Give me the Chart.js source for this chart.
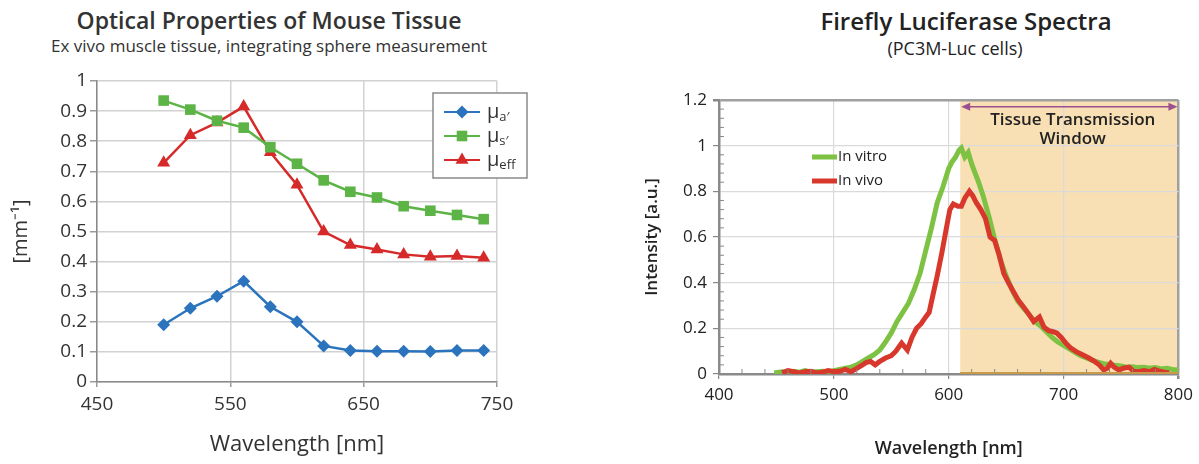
<!DOCTYPE html>
<html>
<head>
<meta charset="utf-8">
<script src="https://cdn.jsdelivr.net/npm/chart.js@4.4.1/dist/chart.umd.min.js"></script>
<style>
  body { margin: 0; width: 1199px; height: 464px; background: #fff; position: relative; overflow: hidden; font-family: "Open Sans", sans-serif; color: #222; }
  .ttl { position: absolute; white-space: nowrap; transform: translateX(-50%); }
  #leftBox { position: absolute; left: 0; top: 0; width: 540px; height: 464px; }
  #rightBox { position: absolute; left: 620px; top: 0; width: 579px; height: 464px; }
</style>
</head>
<body>
<div class="ttl" style="left:269px;top:5px;font-size:23px;line-height:30px;font-weight:600;color:#333">Optical Properties of Mouse Tissue</div>
<div class="ttl" style="left:269px;top:35px;font-size:17px;line-height:22px;color:#333">Ex vivo muscle tissue, integrating sphere measurement</div>
<div class="ttl" style="left:966px;top:5px;font-size:24px;line-height:32px;font-weight:600;color:#222">Firefly Luciferase Spectra</div>
<div class="ttl" style="left:955px;top:37px;font-size:18px;line-height:22px;color:#222">(PC3M-Luc cells)</div>

<div id="leftBox"><canvas id="leftChart" width="540" height="464"></canvas></div>
<div id="rightBox"><canvas id="rightChart" width="579" height="464"></canvas></div>

<script>
// ---- left chart data (optical properties) ----
const wavelengths = [500, 520, 540, 560, 580, 600, 620, 640, 660, 680, 700, 720, 740];
const muA   = [0.19, 0.245, 0.285, 0.335, 0.25, 0.2, 0.12, 0.105, 0.102, 0.102, 0.101, 0.105, 0.105];
const muS   = [0.935, 0.905, 0.868, 0.845, 0.78, 0.725, 0.67, 0.632, 0.613, 0.584, 0.569, 0.555, 0.541];
const muEff = [0.728, 0.82, 0.862, 0.915, 0.763, 0.655, 0.5, 0.455, 0.44, 0.424, 0.416, 0.419, 0.413];
const leftXTicks = [450, 550, 650, 750];
const leftYTicks = [0, 0.1, 0.2, 0.3, 0.4, 0.5, 0.6, 0.7, 0.8, 0.9, 1];

// ---- right chart data (luciferase spectra) ----
const vitroWl = [448, 455, 460, 465, 470, 475, 480, 485, 490, 495, 500, 505, 510, 515, 520, 525, 530, 535, 540, 545,
  550, 555, 560, 565, 570, 575, 580, 585, 590, 595, 600, 603, 606, 609, 611, 614, 617, 620, 623, 626,
  630, 635, 640, 645, 650, 655, 660, 665, 670, 675, 680, 685, 690, 695, 700, 705, 710, 715, 720, 725,
  730, 735, 740, 745, 750, 755, 760, 765, 770, 775, 780, 785, 790, 795, 800];
const vitroI = [0.005, 0.01, 0.005, 0.012, 0.008, 0.015, 0.008, 0.01, 0.012, 0.008, 0.015, 0.02, 0.025, 0.03, 0.04, 0.055, 0.07, 0.085, 0.105, 0.14,
  0.18, 0.23, 0.27, 0.31, 0.37, 0.44, 0.54, 0.64, 0.75, 0.82, 0.9, 0.93, 0.95, 0.98, 0.99, 0.95, 0.97, 0.92, 0.88, 0.84,
  0.78, 0.69, 0.59, 0.5, 0.43, 0.37, 0.32, 0.29, 0.26, 0.23, 0.21, 0.185, 0.16, 0.14, 0.125, 0.11, 0.095, 0.08, 0.07, 0.06,
  0.052, 0.045, 0.042, 0.038, 0.035, 0.03, 0.032, 0.028, 0.03, 0.025, 0.028, 0.022, 0.025, 0.02, 0.018];
const vivoWl = [455, 460, 465, 470, 475, 480, 485, 490, 495, 500, 505, 510, 515, 520, 525, 528, 532, 536, 540, 545,
  550, 554, 559, 564, 568, 572, 576, 580, 583, 586, 590, 594, 598, 601, 604, 608, 611, 614, 618, 621,
  624, 628, 632, 636, 640, 644, 648, 652, 657, 661, 665, 670, 674, 679, 683, 687, 691, 694, 698, 702,
  706, 711, 716, 722, 727, 731, 735, 738, 741, 744, 748, 752, 757, 761, 765, 770, 775, 779, 784, 788, 792];
const vivoI = [0.005, 0.015, 0.01, 0.005, 0.01, 0.012, 0.005, 0.008, 0.015, 0.01, 0.012, 0.02, 0.01, 0.025, 0.04, 0.05, 0.055, 0.04, 0.055, 0.07,
  0.08, 0.1, 0.135, 0.105, 0.16, 0.2, 0.22, 0.25, 0.27, 0.34, 0.43, 0.53, 0.64, 0.72, 0.745, 0.735, 0.735, 0.77, 0.8, 0.78,
  0.75, 0.72, 0.68, 0.6, 0.585, 0.52, 0.44, 0.4, 0.355, 0.32, 0.295, 0.26, 0.23, 0.25, 0.205, 0.19, 0.185, 0.18, 0.16, 0.135,
  0.115, 0.098, 0.085, 0.07, 0.055, 0.04, 0.018, 0.025, 0.047, 0.03, 0.018, 0.025, 0.03, 0.012, 0.01, 0.015, 0.01, 0.02, 0.012, 0.008, 0.005];
const rightXTicks = [400, 500, 600, 700, 800];
const rightYTicks = [0, 0.2, 0.4, 0.6, 0.8, 1, 1.2];
const windowRange = [610, 800];

const FONT = '"Open Sans", sans-serif';
const BLUE = '#2b74bd', GREEN = '#5db446', RED = '#d62a2a';
const VITRO = '#7dc242', VIVO = '#d8372b';

function pts(xs, ys) { return xs.map((x, i) => ({ x: x, y: ys[i] })); }
function setTicks(list) { return s => { s.ticks = list.map(v => ({ value: v })); }; }
const plainLabel = v => String(v);

function marker(ctx, style, x, y, r, color) {
  ctx.fillStyle = color;
  ctx.beginPath();
  if (style === 'rectRot') {
    ctx.moveTo(x, y - r); ctx.lineTo(x + r, y); ctx.lineTo(x, y + r); ctx.lineTo(x - r, y);
  } else if (style === 'rect') {
    const h = r * Math.SQRT1_2;
    ctx.rect(x - h, y - h, 2 * h, 2 * h);
  } else {
    ctx.moveTo(x, y - r); ctx.lineTo(x + r * 0.866, y + r / 2); ctx.lineTo(x - r * 0.866, y + r / 2);
  }
  ctx.closePath();
  ctx.fill();
}

// legend box inside the left plot, with subscripted labels
const leftLegend = {
  id: 'leftLegend',
  afterDraw(chart) {
    const ctx = chart.ctx;
    const items = [
      { c: BLUE, s: 'rectRot', r: 6.5, sub: 'a\u2032' },
      { c: GREEN, s: 'rect', r: 7.5, sub: 's\u2032' },
      { c: RED, s: 'triangle', r: 7.5, sub: 'eff' }
    ];
    ctx.save();
    ctx.fillStyle = '#fff';
    ctx.fillRect(433, 93, 94, 85);
    ctx.strokeStyle = '#8a8a8a';
    ctx.lineWidth = 1.5;
    ctx.strokeRect(433, 93, 94, 85);
    items.forEach((it, i) => {
      const y = 112 + i * 24;
      ctx.strokeStyle = it.c;
      ctx.lineWidth = 2;
      ctx.beginPath(); ctx.moveTo(444, y); ctx.lineTo(480, y); ctx.stroke();
      marker(ctx, it.s, 462, y, it.r, it.c);
      ctx.fillStyle = '#333';
      ctx.textBaseline = 'alphabetic';
      ctx.font = '20px ' + FONT;
      ctx.fillText('\u03bc', 487, y + 6);
      const w = ctx.measureText('\u03bc').width;
      ctx.font = '13px ' + FONT;
      ctx.fillText(it.sub, 487 + w, y + 9);
    });
    ctx.restore();
  }
};

new Chart(document.getElementById('leftChart'), {
  type: 'line',
  data: {
    datasets: [
      { data: pts(wavelengths, muS), borderColor: GREEN, backgroundColor: GREEN, pointStyle: 'rect', pointRadius: 7.5, borderWidth: 2.5, pointBorderWidth: 0 },
      { data: pts(wavelengths, muEff), borderColor: RED, backgroundColor: RED, pointStyle: 'triangle', pointRadius: 7.5, borderWidth: 2.5, pointBorderWidth: 0 },
      { data: pts(wavelengths, muA), borderColor: BLUE, backgroundColor: BLUE, pointStyle: 'rectRot', pointRadius: 6.5, borderWidth: 2.5, pointBorderWidth: 0 }
    ]
  },
  options: {
    responsive: false,
    animation: false,
    layout: { padding: { top: 81, right: 43, left: 0, bottom: 0 }, autoPadding: false },
    plugins: { legend: { display: false }, tooltip: { enabled: false } },
    scales: {
      x: {
        type: 'linear', min: 450, max: 750,
        afterBuildTicks: setTicks(leftXTicks),
        afterFit: s => { s.height = 82; },
        grid: { color: '#d2d2d2', lineWidth: 1.5, tickLength: 5, tickColor: '#9a9a9a' },
        border: { color: '#8a8a8a', width: 1.5 },
        ticks: { font: { family: FONT, size: 19 }, color: '#333', padding: 6, maxRotation: 0, callback: plainLabel },
        title: { display: true, text: 'Wavelength [nm]', font: { family: FONT, size: 22 }, color: '#333', padding: { top: 0, bottom: 6 } }
      },
      y: {
        min: 0, max: 1,
        afterBuildTicks: setTicks(leftYTicks),
        afterFit: s => { s.width = 97; },
        grid: { color: '#d2d2d2', lineWidth: 1.5, tickLength: 7, tickColor: '#9a9a9a' },
        border: { color: '#8a8a8a', width: 1.5 },
        ticks: { font: { family: FONT, size: 19 }, color: '#333', padding: 3, callback: plainLabel },
        title: { display: true, text: '[mm\u207b\u00b9]', font: { family: FONT, size: 20 }, color: '#333', padding: { top: 9, bottom: 0 } }
      }
    }
  },
  plugins: [leftLegend]
});

// shaded tissue window, arrow, label, minor ticks and legend for the right plot
const windowPlugin = {
  id: 'windowPlugin',
  beforeDraw(chart) {
    const { ctx, chartArea: a, scales: { x } } = chart;
    const x0 = x.getPixelForValue(windowRange[0]), x1 = x.getPixelForValue(windowRange[1]);
    ctx.save();
    ctx.fillStyle = '#f8dfb4';
    ctx.fillRect(x0, a.top, x1 - x0, a.bottom - a.top);
    ctx.restore();
  },
  afterDraw(chart) {
    const { ctx, chartArea: a, scales: { x, y } } = chart;
    const x0 = x.getPixelForValue(windowRange[0]), x1 = x.getPixelForValue(windowRange[1]);
    ctx.save();
    // minor ticks
    ctx.strokeStyle = '#888';
    ctx.lineWidth = 1;
    for (let v = 420; v < 800; v += 20) {
      if (v % 100 === 0) continue;
      const px = x.getPixelForValue(v);
      ctx.beginPath(); ctx.moveTo(px, a.bottom); ctx.lineTo(px, a.bottom - 5); ctx.stroke();
    }
    for (let k = 1; k < 30; k++) {
      if (k % 5 === 0) continue;
      const py = y.getPixelForValue(k * 0.04);
      ctx.beginPath(); ctx.moveTo(a.left, py); ctx.lineTo(a.left + 5, py); ctx.stroke();
    }
    // brownish base line under the window
    ctx.strokeStyle = '#c99a4a';
    ctx.lineWidth = 2;
    ctx.beginPath(); ctx.moveTo(x0, a.bottom - 1); ctx.lineTo(x1, a.bottom - 1); ctx.stroke();
    // double arrow
    const ay = y.getPixelForValue(1.17);
    ctx.strokeStyle = '#9c4f8e';
    ctx.fillStyle = '#9c4f8e';
    ctx.lineWidth = 1.5;
    ctx.beginPath(); ctx.moveTo(x0 + 4, ay); ctx.lineTo(x1 - 4, ay); ctx.stroke();
    ctx.beginPath(); ctx.moveTo(x0 + 1, ay); ctx.lineTo(x0 + 10, ay - 4); ctx.lineTo(x0 + 10, ay + 4); ctx.closePath(); ctx.fill();
    ctx.beginPath(); ctx.moveTo(x1 - 1, ay); ctx.lineTo(x1 - 10, ay - 4); ctx.lineTo(x1 - 10, ay + 4); ctx.closePath(); ctx.fill();
    // label
    ctx.fillStyle = '#222';
    ctx.font = '600 17px ' + FONT;
    ctx.textAlign = 'center';
    ctx.textBaseline = 'middle';
    const cx = x.getPixelForValue(708);
    ctx.fillText('Tissue Transmission', cx, y.getPixelForValue(1.113));
    ctx.fillText('Window', cx, y.getPixelForValue(1.03));
    // legend
    ctx.textAlign = 'left';
    ctx.font = '15px ' + FONT;
    [[VITRO, 'In vitro', 157], [VIVO, 'In vivo', 181]].forEach(([c, t, py]) => {
      ctx.strokeStyle = c;
      ctx.lineWidth = 5;
      ctx.beginPath(); ctx.moveTo(192, py); ctx.lineTo(217, py); ctx.stroke();
      ctx.fillStyle = '#222';
      ctx.fillText(t, 218, py);
    });
    ctx.restore();
  }
};

const gridColor = (max) => c => (c.tick && c.tick.value === max ? '#a0a0a0' : '#dadada');
const gridWidth = (max) => c => (c.tick && c.tick.value === max ? 2.5 : 1.2);

new Chart(document.getElementById('rightChart'), {
  type: 'line',
  data: {
    datasets: [
      { data: pts(vitroWl, vitroI), borderColor: VITRO, borderWidth: 5, pointRadius: 0, tension: 0, order: 2 },
      { data: pts(vivoWl, vivoI), borderColor: VIVO, borderWidth: 5, pointRadius: 0, tension: 0, order: 1 }
    ]
  },
  options: {
    responsive: false,
    animation: false,
    layout: { padding: { top: 100, right: 15, left: 0, bottom: 0 }, autoPadding: false },
    plugins: { legend: { display: false }, tooltip: { enabled: false } },
    scales: {
      x: {
        type: 'linear', min: 400, max: 800,
        afterBuildTicks: setTicks(rightXTicks),
        afterFit: s => { s.height = 90; },
        grid: { color: gridColor(800), lineWidth: gridWidth(800), tickLength: 5, tickColor: '#888' },
        border: { color: '#8a8a8a', width: 2.5 },
        ticks: { font: { family: FONT, size: 17 }, color: '#222', padding: 6, maxRotation: 0, callback: plainLabel },
        title: { display: true, text: 'Wavelength [nm]', font: { family: FONT, size: 18, weight: '600' }, color: '#222', padding: { top: 0, bottom: 4 } }
      },
      y: {
        min: 0, max: 1.2,
        afterBuildTicks: setTicks(rightYTicks),
        afterFit: s => { s.width = 99; },
        grid: { color: gridColor(1.2), lineWidth: gridWidth(1.2), tickLength: 6, tickColor: '#888' },
        border: { color: '#8a8a8a', width: 2.5 },
        ticks: { font: { family: FONT, size: 17 }, color: '#222', padding: 6, callback: plainLabel },
        title: { display: true, text: 'Intensity [a.u.]', font: { family: FONT, size: 17, weight: '600' }, color: '#222', padding: { top: 22, bottom: 0 } }
      }
    }
  },
  plugins: [windowPlugin]
});
</script>
</body>
</html>
